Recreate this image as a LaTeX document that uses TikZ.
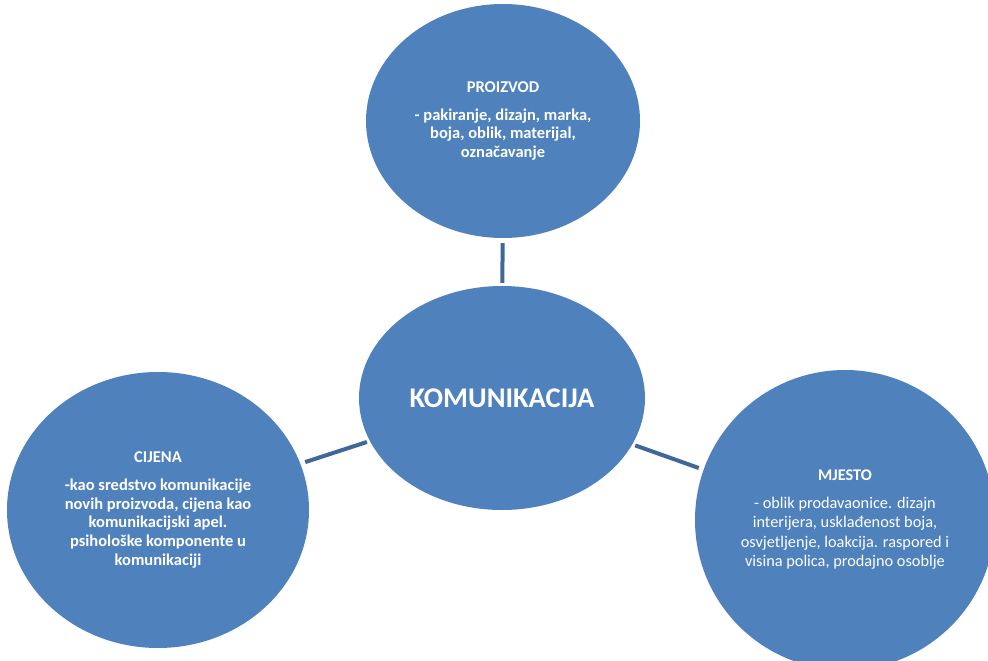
\documentclass[tikz,border=0pt]{standalone}
\usepackage{fontspec}
\setmainfont{Carlito}
\usetikzlibrary{shapes.geometric}
\definecolor{bubbleblue}{HTML}{4F81BD}
\definecolor{linkblue}{HTML}{3F6899}

\begin{document}
\begin{tikzpicture}[x=1pt,y=-1pt,
  bubble/.style={ellipse, fill=bubbleblue, text=white, inner sep=0pt, align=center,
    font=\bfseries\fontsize{16.5}{18.8}\selectfont},
  link/.style={line width=4pt, color=linkblue, shorten <=3pt, shorten >=5pt}]
\useasboundingbox (0,0) rectangle (988,661);

% centre
\node[bubble, minimum width=286pt, minimum height=224pt,
  font=\bfseries\fontsize{28.5}{32}\selectfont] (komunikacija) at (502,398) {KOMUNIKACIJA};

% the three outer bubbles
\node[bubble, minimum width=274pt, minimum height=234pt] (proizvod) at (503,121)
  {PROIZVOD\\[9pt]- pakiranje, dizajn, marka,\\boja, oblik, materijal,\\označavanje};
\node[bubble, minimum width=302pt, minimum height=276pt] (cijena) at (158,510)
  {CIJENA\\[9pt]-kao sredstvo komunikacije\\novih proizvoda, cijena kao\\komunikacijski apel.\\psihološke komponente u\\komunikaciji};
\node[bubble, minimum width=300pt, minimum height=300pt,
  font=\fontsize{16.3}{19.5}\selectfont] (mjesto) at (845,520)
  {\textbf{MJESTO}\\[8pt]- oblik prodavaonice. dizajn\\interijera, usklađenost boja,\\osvjetljenje, loakcija. raspored i\\visina polica, prodajno osoblje};

\draw[link] (komunikacija) -- (proizvod);
\draw[link] (komunikacija) -- (cijena);
\draw[link] (komunikacija) -- (mjesto);
\end{tikzpicture}
\end{document}
